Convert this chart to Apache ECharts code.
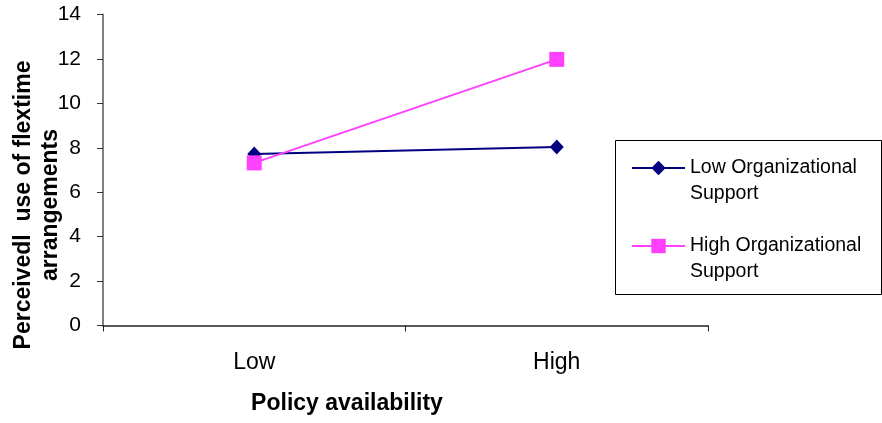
<!DOCTYPE html>
<html>
<head>
<meta charset="utf-8">
<script src="https://cdn.jsdelivr.net/npm/echarts@6/dist/echarts.min.js"></script>
<style>
html,body{margin:0;padding:0;background:#fff;}
#chart{width:882px;height:423px;}
</style>
</head>
<body>
<div id="chart"></div>
<script>
var categories = ['Low', 'High'];
var lowSupport = [7.72, 8.03];
var highSupport = [7.32, 11.98];
var seriesNames = ['Low Organizational\nSupport', 'High Organizational\nSupport'];
var xTitle = 'Policy availability';
var yTitle = 'Perceivedl  use of flextime\narrangements';

var chart = echarts.init(document.getElementById('chart'), null, {renderer: 'canvas'});
var font = 'Liberation Sans, Arial, sans-serif';
chart.setOption({
  animation: false,
  backgroundColor: '#fff',
  textStyle: {fontFamily: font},
  grid: {left: 103, right: 174, top: 14.5, bottom: 97.5, containLabel: false},
  xAxis: {
    type: 'category',
    data: categories,
    boundaryGap: true,
    axisLine: {lineStyle: {color: '#222', width: 1.5}},
    axisTick: {show: true, alignWithLabel: false, length: 6, lineStyle: {color: '#222'}},
    axisLabel: {color: '#000', fontSize: 23, margin: 26, fontFamily: font},
    splitLine: {show: false}
  },
  yAxis: {
    type: 'value',
    min: 0, max: 14, interval: 2,
    axisLine: {show: true, lineStyle: {color: '#808080', width: 2}},
    axisTick: {show: true, length: 6, lineStyle: {color: '#333'}},
    axisLabel: {color: '#000', fontSize: 21, margin: 22, fontFamily: font},
    splitLine: {show: false}
  },
  legend: {
    orient: 'vertical',
    left: 631,
    top: 129,
    padding: 0,
    itemGap: 0,
    itemWidth: 53,
    itemHeight: 18,
    formatter: function (name) { return ' \n' + name; },
    textStyle: {color: '#000', fontSize: 19.5, lineHeight: 26, fontFamily: font},
    data: seriesNames
  },
  graphic: [
    {type: 'rect', left: 613, top: 138, shape: {width: 266, height: 154}, style: {fill: 'none', stroke: '#000', lineWidth: 1}, silent: true},
    {type: 'text', x: 347, y: 404, style: {text: xTitle, font: 'bold 23px ' + font, fill: '#000', align: 'center', verticalAlign: 'middle'}},
    {type: 'text', x: 37.5, y: 205, rotation: Math.PI / 2, style: {text: yTitle, font: 'bold 23px ' + font, lineHeight: 27, fill: '#000', align: 'center', verticalAlign: 'middle'}}
  ],
  series: [
    {
      name: seriesNames[0],
      type: 'line',
      data: lowSupport,
      symbol: 'diamond',
      symbolSize: [14, 15],
      lineStyle: {color: '#000080', width: 2},
      itemStyle: {color: '#000080'}
    },
    {
      name: seriesNames[1],
      type: 'line',
      data: highSupport,
      symbol: 'rect',
      symbolSize: 15,
      lineStyle: {color: '#FF40FF', width: 2},
      itemStyle: {color: '#FF40FF'}
    }
  ]
});
</script>
</body>
</html>
